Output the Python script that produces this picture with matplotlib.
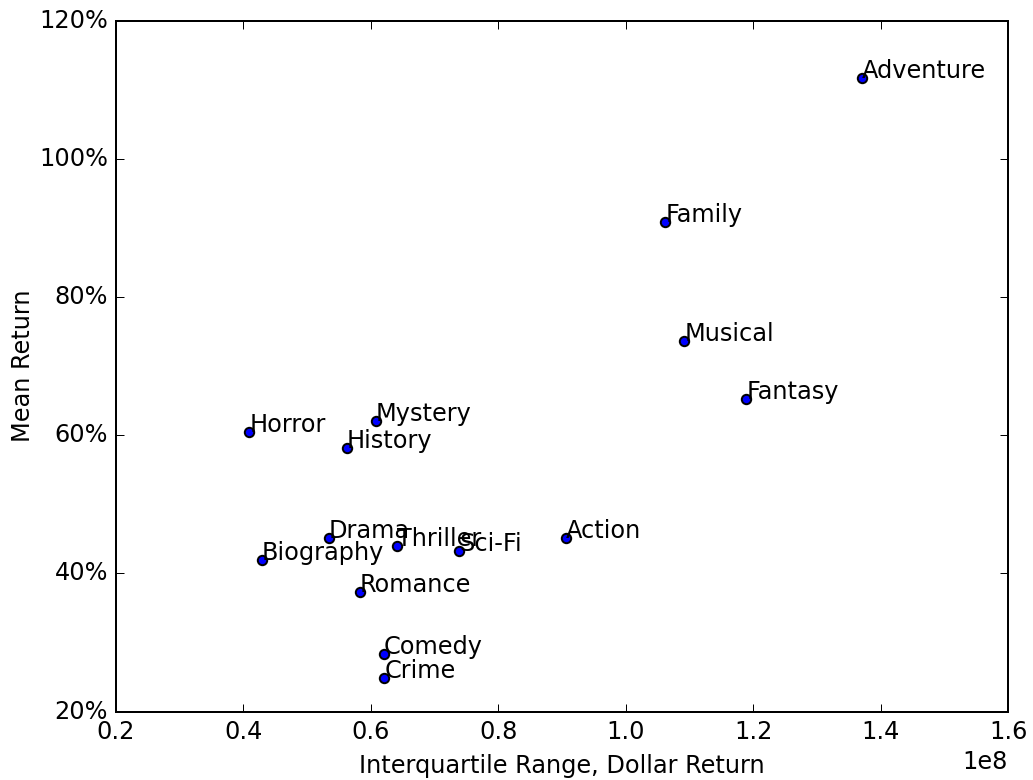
#!/usr/bin/env python3

import matplotlib
matplotlib.use("Agg")
import matplotlib.pyplot as plt
from matplotlib.ticker import FuncFormatter


GENRES = [
    "Adventure", "Family", "Musical", "Fantasy", "Mystery", "Horror",
    "History", "Drama", "Thriller", "Sci-Fi", "Action", "Biography",
    "Romance", "Comedy", "Crime",
]

# interquartile range of dollar return
IQR = [
    1.371e8, 1.062e8, 1.092e8, 1.189e8, 0.608e8, 0.409e8,
    0.562e8, 0.534e8, 0.641e8, 0.739e8, 0.906e8, 0.429e8,
    0.583e8, 0.620e8, 0.621e8,
]

# mean return (fraction)
MEAN_RETURN = [
    1.117, 0.909, 0.736, 0.652, 0.621, 0.604,
    0.582, 0.451, 0.439, 0.433, 0.451, 0.419,
    0.373, 0.283, 0.249,
]

X_TICKS = [0.2e8, 0.4e8, 0.6e8, 0.8e8, 1.0e8, 1.2e8, 1.4e8, 1.6e8]
Y_TICKS = [0.2, 0.4, 0.6, 0.8, 1.0, 1.2]


def main():
    plt.style.use("classic")
    dpi = 144
    fig = plt.figure(figsize=(1033 / dpi, 780 / dpi), dpi=dpi, facecolor="white")
    ax = fig.add_axes([0.1123, 0.0878, 0.9758 - 0.1123, 0.9737 - 0.0878])

    ax.scatter(IQR, MEAN_RETURN, s=22, c="b", edgecolors="k", zorder=3)
    for name, x, y in zip(GENRES, IQR, MEAN_RETURN):
        ax.text(x, y, name, fontsize=12)

    ax.set_xlim(0.2e8, 1.6e8)
    ax.set_ylim(0.2, 1.2)
    ax.set_xticks(X_TICKS)
    ax.set_yticks(Y_TICKS)
    ax.yaxis.set_major_formatter(FuncFormatter(lambda v, p: "{:.0f}%".format(v * 100)))

    ax.set_xlabel("Interquartile Range, Dollar Return", fontsize=12)
    ax.set_ylabel("Mean Return", fontsize=12, labelpad=2)

    fig.savefig("out.png", dpi=dpi, facecolor="white")
    plt.close(fig)


if __name__ == "__main__":
    main()
